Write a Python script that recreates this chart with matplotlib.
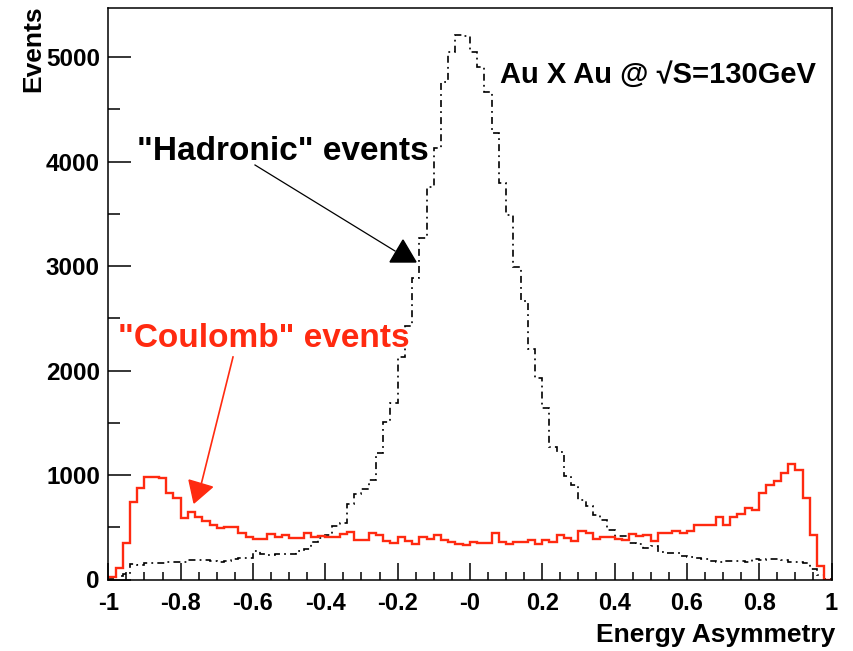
import numpy as np
import matplotlib
matplotlib.use("Agg")
import matplotlib.pyplot as plt
from matplotlib.patches import Polygon
from matplotlib.lines import Line2D
from matplotlib.ticker import FixedLocator, MultipleLocator

plt.rcParams['font.family'] = ['Liberation Sans', 'DejaVu Sans']
plt.rcParams['lines.scale_dashes'] = False

# 100 bins of energy asymmetry between -1 and 1
bin_edges = np.linspace(-1.0, 1.0, 101)

hadronic_events = [5, 30, 55, 145, 140, 161, 160, 160, 165, 170,
                   170, 187, 190, 187, 175, 170, 178, 195, 203, 205,
                   270, 240, 234, 244, 244, 243, 268, 290, 360, 400,
                   426, 510, 540, 725, 820, 870, 955, 1208, 1505, 1686,
                   2130, 2430, 2890, 3265, 3759, 4126, 4764, 5051, 5211, 5200,
                   5051, 4908, 4668, 4270, 3791, 3488, 2993, 2665, 2203, 1925,
                   1645, 1270, 1220, 995, 905, 765, 705, 617, 569, 474,
                   418, 418, 346, 338, 298, 325, 260, 250, 250, 223,
                   218, 207, 198, 180, 170, 178, 178, 178, 167, 200,
                   182, 195, 200, 182, 172, 172, 162, 100, 40, 8]

coulomb_events = [20, 107, 346, 745, 873, 984, 984, 968, 825, 783,
                  585, 643, 601, 560, 522, 490, 505, 505, 442, 410,
                  385, 385, 435, 410, 426, 400, 400, 445, 410, 416,
                  405, 405, 440, 455, 380, 380, 442, 426, 365, 346,
                  410, 368, 343, 410, 385, 426, 382, 360, 343, 327,
                  362, 346, 346, 442, 356, 337, 362, 362, 375, 342,
                  380, 355, 422, 395, 365, 460, 443, 387, 406, 405,
                  392, 381, 438, 418, 423, 368, 447, 447, 464, 445,
                  465, 525, 525, 525, 601, 518, 598, 625, 684, 665,
                  828, 906, 945, 1024, 1102, 1048, 780, 426, 126, 0]

x_ticks = [-1.0, -0.8, -0.6, -0.4, -0.2, 0.0, 0.2, 0.4, 0.6, 0.8, 1.0]
x_tick_labels = ['-1', '-0.8', '-0.6', '-0.4', '-0.2', '-0', '0.2', '0.4', '0.6', '0.8', '1']
y_ticks = [0, 1000, 2000, 3000, 4000, 5000]
y_tick_labels = ['0', '1000', '2000', '3000', '4000', '5000']

RED = '#ff2a10'
W_PX, H_PX = 854, 651


def fig_xy(x, y):
    """Pixel position (from top-left) to figure fraction."""
    return (x / W_PX, 1 - y / H_PX)


fig = plt.figure(figsize=(W_PX / 100, H_PX / 100), dpi=100)
ax = fig.add_axes([108.3 / W_PX, (H_PX - 579.5) / H_PX,
                   (831.5 - 108.3) / W_PX, (579.5 - 8) / H_PX])

ax.stairs(hadronic_events, bin_edges, color='black', lw=1.2,
          linestyle=(0, (5, 3, 1.3, 3)), baseline=0)
ax.stairs(coulomb_events, bin_edges, color=RED, lw=1.7, baseline=0)

ax.set_xlim(-1, 1)
ax.set_ylim(0, 5470)

ax.xaxis.set_major_locator(FixedLocator(x_ticks))
ax.set_xticklabels(x_tick_labels)
ax.xaxis.set_minor_locator(MultipleLocator(0.05))
ax.yaxis.set_major_locator(FixedLocator(y_ticks))
ax.set_yticklabels(y_tick_labels)
ax.yaxis.set_minor_locator(MultipleLocator(500))

ax.tick_params(axis='both', which='both', direction='in', top=False, right=False,
               colors='black', width=1.1)
ax.tick_params(axis='x', which='major', length=12.2, pad=9, labelsize=17)
ax.tick_params(axis='x', which='minor', length=6.1)
ax.tick_params(axis='y', which='major', length=16.5, pad=6, labelsize=17.5)
ax.tick_params(axis='y', which='minor', length=8.3)
for lab in ax.get_xticklabels() + ax.get_yticklabels():
    lab.set_fontweight('bold')
for sp in ax.spines.values():
    sp.set_linewidth(1.1)

# axis titles
fig.text(*fig_xy(835, 635), 'Energy Asymmetry', ha='right', va='center',
         fontsize=19, fontweight='bold')
fig.text(*fig_xy(33, 5), 'Events', ha='center', va='top', rotation=90,
         fontsize=19, fontweight='bold')

# collision label
fig.text(*fig_xy(500, 75), 'Au X Au @ \u221aS=130GeV', ha='left', va='center',
         fontsize=21, fontweight='bold')

# "Hadronic" annotation
fig.text(*fig_xy(137, 152), '"Hadronic" events', ha='left', va='center',
         fontsize=24, fontweight='bold', color='black')
fig.add_artist(Line2D(*zip(fig_xy(255, 165), fig_xy(395, 251)),
                      transform=fig.transFigure, color='black', lw=0.9))
fig.add_artist(Polygon([fig_xy(403, 240), fig_xy(390, 262), fig_xy(416, 262)],
                       closed=True, transform=fig.transFigure,
                       facecolor='black', edgecolor='black'))

# "Coulomb" annotation
fig.text(*fig_xy(118, 338), '"Coulomb" events', ha='left', va='center',
         fontsize=24, fontweight='bold', color=RED)
fig.add_artist(Line2D(*zip(fig_xy(233, 357), fig_xy(201, 485)),
                      transform=fig.transFigure, color=RED, lw=1.2))
fig.add_artist(Polygon([fig_xy(194, 503), fig_xy(189, 480), fig_xy(212.5, 487)],
                       closed=True, transform=fig.transFigure,
                       facecolor=RED, edgecolor=RED))

fig.savefig('out.png', dpi=100)
